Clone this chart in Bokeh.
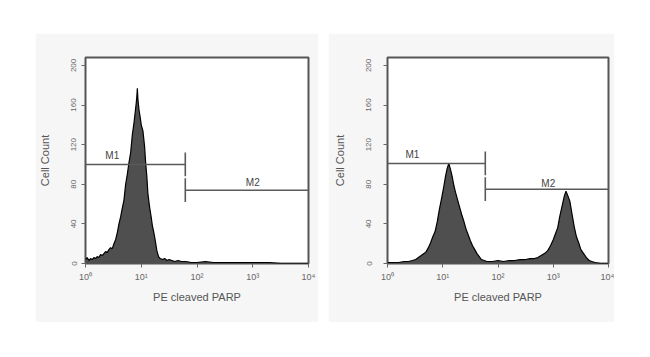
from bokeh.plotting import figure
from bokeh.layouts import row
from bokeh.models import Range1d, FixedTicker, ColumnDataSource
from bokeh.core.properties import value
from bokeh.embed import file_html
from bokeh.resources import INLINE

# ---- data (x in decades: 0 -> 10^0 ... 4 -> 10^4) ----
left_x = [0.00, 0.03, 0.06, 0.09, 0.12, 0.15, 0.18, 0.21, 0.24, 0.27,
          0.30, 0.33, 0.36, 0.39, 0.42, 0.45, 0.48, 0.51, 0.54, 0.57,
          0.60, 0.63, 0.66, 0.69, 0.72, 0.75, 0.78, 0.81, 0.84, 0.87,
          0.89, 0.91, 0.92, 0.93, 0.94, 0.96, 0.98, 1.00,
          1.03, 1.06, 1.08, 1.10, 1.12, 1.15, 1.18, 1.20, 1.22, 1.24,
          1.26, 1.28, 1.31, 1.34, 1.38, 1.42, 1.46, 1.50, 1.55, 1.60,
          1.66, 1.72, 1.80, 1.90, 2.00, 2.15, 2.30, 2.50, 2.70, 2.90,
          3.10, 3.30, 3.50, 3.70, 4.00]
left_count = [4, 6, 3, 5, 4, 6, 5, 7, 6, 9,
              8, 10, 12, 11, 14, 16, 15, 20, 24, 31,
              40, 47, 56, 64, 80, 90, 102, 112, 130, 142,
              152, 162, 168, 177, 166, 155, 148, 140,
              134, 118, 101, 88, 70, 57, 46, 38, 33, 27,
              20, 13, 7, 5, 4, 5, 3, 4, 3, 2,
              3, 2, 2, 1, 1, 2, 1, 1, 1, 1,
              1, 1, 0, 0, 0]

right_x = [0.00, 0.10, 0.20, 0.30, 0.38, 0.45, 0.51, 0.56, 0.61, 0.66,
           0.70, 0.74, 0.78, 0.82, 0.86, 0.90, 0.94, 0.98, 1.02, 1.05,
           1.08, 1.11, 1.14, 1.17, 1.20, 1.23, 1.26, 1.30, 1.34, 1.38,
           1.42, 1.46, 1.50, 1.54, 1.58, 1.62, 1.66, 1.70, 1.75, 1.80,
           1.90, 2.00, 2.10, 2.20, 2.30, 2.40, 2.50, 2.58, 2.66, 2.72,
           2.78, 2.84, 2.90, 2.95, 3.00, 3.04, 3.08, 3.12, 3.16, 3.20,
           3.23, 3.26, 3.30, 3.34, 3.38, 3.42, 3.46, 3.50, 3.55, 3.60,
           3.65, 3.70, 3.76, 3.85, 4.00]
right_count = [1, 1, 1, 2, 2, 3, 4, 6, 8, 10,
               12, 16, 21, 27, 32, 42, 55, 66, 78, 88,
               96, 101, 95, 88, 79, 72, 66, 58, 50, 43,
               35, 29, 23, 18, 14, 10, 7, 4, 3, 2,
               2, 3, 2, 3, 3, 4, 4, 5, 5, 6,
               8, 10, 13, 18, 24, 30, 36, 48, 58, 68,
               73, 69, 63, 50, 37, 27, 21, 14, 10, 6,
               3, 2, 1, 0, 0]

# gates: M1 from 10^0 to split, M2 from split to 10^4
left_split = 1.79
left_m1_level = 100
left_m2_level = 74
right_split = 1.77
right_m1_level = 101
right_m2_level = 75
gate_names = ["M1", "M2"]
left_label_x = [0.48, 3.0]
left_label_y = [109, 82]
right_label_x = [0.45, 2.91]
right_label_y = [110, 81]

x_ticks = [0, 1, 2, 3, 4]
x_tick_labels = ["10\u2070", "10\u00b9", "10\u00b2", "10\u00b3", "10\u2074"]
y_ticks = [0, 40, 80, 120, 160, 200]

FONT = "Liberation Sans"
PANEL_BG = "#f6f6f6"


def make_panel(xs, counts, split, m1, m2, lx, ly, left_border, frame_w,
               right_border, tick_standoff):
    p = figure(width=left_border + frame_w + right_border, height=289,
               x_range=Range1d(0, 4), y_range=Range1d(0, 208),
               output_backend="svg", toolbar_location=None,
               min_border_left=left_border, min_border_right=right_border,
               min_border_top=24, min_border_bottom=59)
    p.border_fill_color = PANEL_BG
    p.background_fill_color = "white"
    p.outline_line_color = "#555555"
    p.outline_line_width = 2
    p.grid.visible = False

    src = ColumnDataSource(dict(x=xs, y=counts))
    p.varea(x="x", y1=0, y2="y", source=src, fill_color="#4f4f4f")
    p.line(x="x", y="y", source=src, line_color="black", line_width=1.2)

    # gate markers
    p.segment(x0=[0, split, split, split], y0=[m1, m2, m1 - 12, m2 - 12],
              x1=[split, 4, split, split], y1=[m1, m2, m1 + 12, m2 + 12],
              line_color="#5a5a5a", line_width=1.6)
    p.text(x=lx, y=ly, text=gate_names, text_font=value(FONT),
           text_font_size="10px", text_color="#444444",
           text_align="center", text_baseline="middle")

    xa = p.xaxis[0]
    xa.ticker = FixedTicker(ticks=x_ticks)
    xa.major_label_overrides = dict(zip(x_ticks, x_tick_labels))
    xa.axis_label = "PE cleaved PARP"
    xa.major_label_standoff = 4
    xa.axis_label_standoff = 6

    ya = p.yaxis[0]
    ya.ticker = FixedTicker(ticks=y_ticks)
    ya.major_label_orientation = "vertical"
    ya.axis_label = "Cell Count"
    ya.major_label_standoff = tick_standoff
    ya.axis_label_standoff = 18

    for ax in (xa, ya):
        ax.axis_line_color = None
        ax.major_tick_in = 0
        ax.major_tick_out = 4
        ax.major_tick_line_color = "#666666"
        ax.major_tick_line_width = 1
        ax.minor_tick_line_color = None
        ax.major_label_text_font = FONT
        ax.major_label_text_font_size = "8px"
        ax.major_label_text_color = "#666666"
        ax.axis_label_text_font = FONT
        ax.axis_label_text_font_size = "11px"
        ax.axis_label_text_font_style = "normal"
        ax.axis_label_text_color = "#555555"
    xa.major_label_text_font_size = "9px"
    return p


p1 = make_panel(left_x, left_count, left_split, left_m1_level, left_m2_level,
                left_label_x, left_label_y, 50, 223, 10, 5)
p2 = make_panel(right_x, right_count, right_split, right_m1_level, right_m2_level,
                right_label_x, right_label_y, 59, 221, 6, 12)
p1.margin = (33, 0, 0, 35)
p2.margin = (33, 0, 0, 10)

layout = row(p1, p2)
open("out.html", "w").write(file_html(layout, INLINE))
